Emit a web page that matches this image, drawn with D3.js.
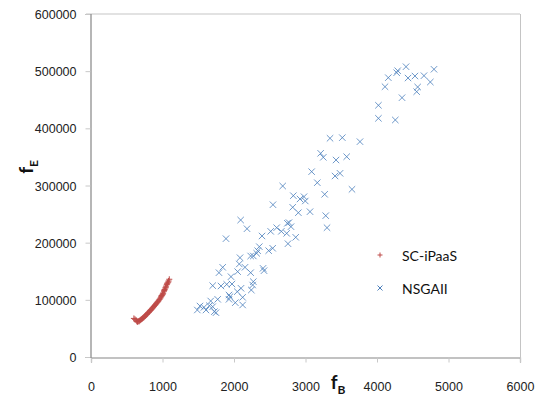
<!DOCTYPE html>
<html>
<head>
	<meta charset="utf-8">
	<title>fB vs fE</title>
	<script type="text/javascript" src="https://cdn.jsdelivr.net/npm/d3@7"></script>
	<style>
		body {
			margin: 0;
			background: #fff;
			font-family: Lato, "Open Sans", sans-serif;
		}
	</style>
</head>

<body>

	<div id="chart"></div>

	<script>

		// data

		const xTicks = [0, 1000, 2000, 3000, 4000, 5000, 6000];
		const yTicks = [0, 100000, 200000, 300000, 400000, 500000, 600000];
		const seriesNames = ["SC-iPaaS", "NSGAII"];

		const scIpaasB = [600, 615, 630, 640, 650, 660, 670, 680, 690, 700, 710, 720, 730, 740, 750, 760, 770, 780, 790,
			800, 810, 820, 830, 840, 850, 860, 870, 880, 890, 900, 910, 920, 930, 940, 950, 960, 970, 980, 985, 990,
			1000, 1005, 1010, 1020, 1025, 1030, 1040, 1045, 1050, 1060, 1065, 1070, 1080, 1085, 1095];
		const scIpaasE = [67500, 66000, 64500, 62500, 61500, 63000, 62000, 63500, 64500, 65500, 66500, 67500, 68500, 69500, 71000, 72000, 73500, 74500, 76000,
			77500, 78500, 80000, 81500, 82500, 84000, 85500, 87000, 88500, 90000, 91500, 93000, 94500, 96000, 97500, 99500, 101000, 103000, 105000, 106500, 107500,
			109000, 110500, 112000, 115000, 116500, 118000, 120500, 122000, 124000, 126500, 128000, 129500, 131000, 133000, 136000];

		const nsgaB = [4289, 4275, 4406, 4158, 4112, 4434, 4531, 4657, 4797, 4746, 4569, 4555, 4350, 4020, 4020, 4256,
			3343, 3515, 3762, 3212, 3249, 3427, 3576, 3086, 3413, 3483, 3165, 3650, 2681, 3268, 2830, 2923, 2979, 2997,
			2545, 2821, 2900, 3063, 3283, 3301, 2093, 2182, 2746, 2769, 2597, 2662, 2737, 2797, 2513, 2392, 2863, 2755,
			1888, 2354, 2331, 2317, 2270, 2233, 2541, 2485, 2084, 2074, 2154, 2233, 2406, 2420, 1842, 1790, 2051, 1958,
			2270, 2261, 2242, 1702, 1818, 1898, 1972, 2098, 2046, 1930, 1944, 1930, 1772, 2121, 2121, 2018, 1674, 1655,
			1702, 1725, 1748, 1524, 1487, 1608, 1580];
		const nsgaE = [500800, 497300, 507800, 488600, 472800, 488000, 491500, 492100, 503300, 481000, 472300, 464100, 453600, 440300, 417500, 414600,
			382600, 383700, 376700, 356300, 349300, 344600, 350400, 324200, 316600, 321300, 304900, 293300, 299100, 284600, 282200, 276400, 280400, 272900,
			266400, 261900, 252400, 254200, 247200, 226200, 239600, 224400, 233900, 235100, 226200, 219800, 216300, 228000, 219800, 211700, 209400, 198200,
			207000, 193000, 185900, 181400, 176700, 176700, 190200, 186000, 173700, 162700, 156900, 147500, 155100, 151000, 156900, 147500, 149300, 140500,
			131800, 125900, 117200, 124800, 124200, 127100, 127700, 120200, 114300, 108500, 105500, 100900, 100900, 104400, 91000, 95000, 98000, 89700,
			88000, 79300, 77500, 89200, 82200, 82200, 86900];

		// layout

		const width = 537;
		const height = 398;
		const plot = { left: 91, right: 520, top: 14, bottom: 357 };
		const redColor = "#BE4B48";
		const blueColor = "#4A7EBB";
		const plusPath = "M-3,0H3M0,-3V3";
		const crossPath = "M-3.2,-3.2L3.2,3.2M-3.2,3.2L3.2,-3.2";

		const x = d3.scaleLinear().domain([0, 6000]).range([plot.left, plot.right]);
		const y = d3.scaleLinear().domain([0, 600000]).range([plot.bottom, plot.top]);

		const svg = d3.select("#chart")
			.append("svg")
			.attr("width", width)
			.attr("height", height)
			.attr("font-family", "Lato, 'Open Sans', sans-serif");

		// top gridline and right border
		svg.append("line")
			.attr("x1", plot.left - 5).attr("x2", plot.right)
			.attr("y1", y(600000)).attr("y2", y(600000))
			.attr("stroke", "#d9d9d9").attr("stroke-width", 1.5);
		svg.append("line")
			.attr("x1", plot.right + 0.5).attr("x2", plot.right + 0.5)
			.attr("y1", plot.top).attr("y2", plot.bottom)
			.attr("stroke", "#c4c4c4");

		// axes
		const xAxis = svg.append("g")
			.attr("transform", `translate(0,${plot.bottom + 0.5})`)
			.call(d3.axisBottom(x).tickValues(xTicks).tickFormat(d3.format("d")).tickSize(5).tickPadding(18));
		const yAxis = svg.append("g")
			.attr("transform", `translate(${plot.left - 0.5},0)`)
			.call(d3.axisLeft(y).tickValues(yTicks).tickFormat(d3.format("d")).tickSize(5).tickPadding(9));

		[xAxis, yAxis].forEach(g => {
			g.select(".domain").attr("stroke", "#868686").attr("stroke-width", 1.2);
			g.selectAll(".tick line").attr("stroke", "#c8c8c8");
			g.selectAll(".tick text").attr("fill", "#222").attr("font-size", "12.5px");
		});
		xAxis.selectAll(".tick text").attr("dy", "0").attr("y", 33);
		yAxis.selectAll(".tick text").attr("dy", "0.36em");

		// series
		svg.append("g")
			.selectAll("path")
			.data(d3.range(nsgaB.length))
			.join("path")
			.attr("transform", i => `translate(${x(nsgaB[i])},${y(nsgaE[i])})`)
			.attr("d", crossPath)
			.attr("fill", "none")
			.attr("stroke", blueColor)
			.attr("stroke-opacity", 0.8)
			.attr("stroke-width", 1);

		svg.append("g")
			.selectAll("path")
			.data(d3.range(scIpaasB.length))
			.join("path")
			.attr("transform", i => `translate(${x(scIpaasB[i])},${y(scIpaasE[i])})`)
			.attr("d", plusPath)
			.attr("fill", "none")
			.attr("stroke", redColor)
			.attr("stroke-width", 1);

		// legend
		const legend = svg.append("g").attr("transform", "translate(380,261)");
		const legendItems = legend.selectAll("g")
			.data(seriesNames)
			.join("g")
			.attr("transform", (d, i) => `translate(0,${i * 33})`);
		legendItems.append("path")
			.attr("transform", "translate(0,-6)")
			.attr("d", (d, i) => i === 0 ? "M-2.5,0H2.5M0,-2.5V2.5" : "M-2.5,-2.5L2.5,2.5M-2.5,2.5L2.5,-2.5")
			.attr("fill", "none")
			.attr("stroke", (d, i) => i === 0 ? redColor : blueColor)
			.attr("stroke-width", 1);
		legendItems.append("text")
			.attr("x", 22)
			.attr("y", 0)
			.attr("dy", "0")
			.attr("font-size", "14px")
			.attr("fill", "#111")
			.text(d => d);

		// axis titles
		const yTitle = svg.append("text")
			.attr("transform", "translate(33,167) rotate(-90)")
			.attr("text-anchor", "middle")
			.attr("font-weight", "bold")
			.attr("fill", "#111");
		yTitle.append("tspan").attr("font-size", "19px").text("f");
		yTitle.append("tspan").attr("font-size", "12px").attr("dy", "5").text("E");

		const xTitle = svg.append("text")
			.attr("x", 338)
			.attr("y", 389)
			.attr("text-anchor", "middle")
			.attr("font-weight", "bold")
			.attr("fill", "#111");
		xTitle.append("tspan").attr("font-size", "19px").text("f");
		xTitle.append("tspan").attr("font-size", "12px").attr("dy", "5").text("B");

	</script>

</body>

</html>
